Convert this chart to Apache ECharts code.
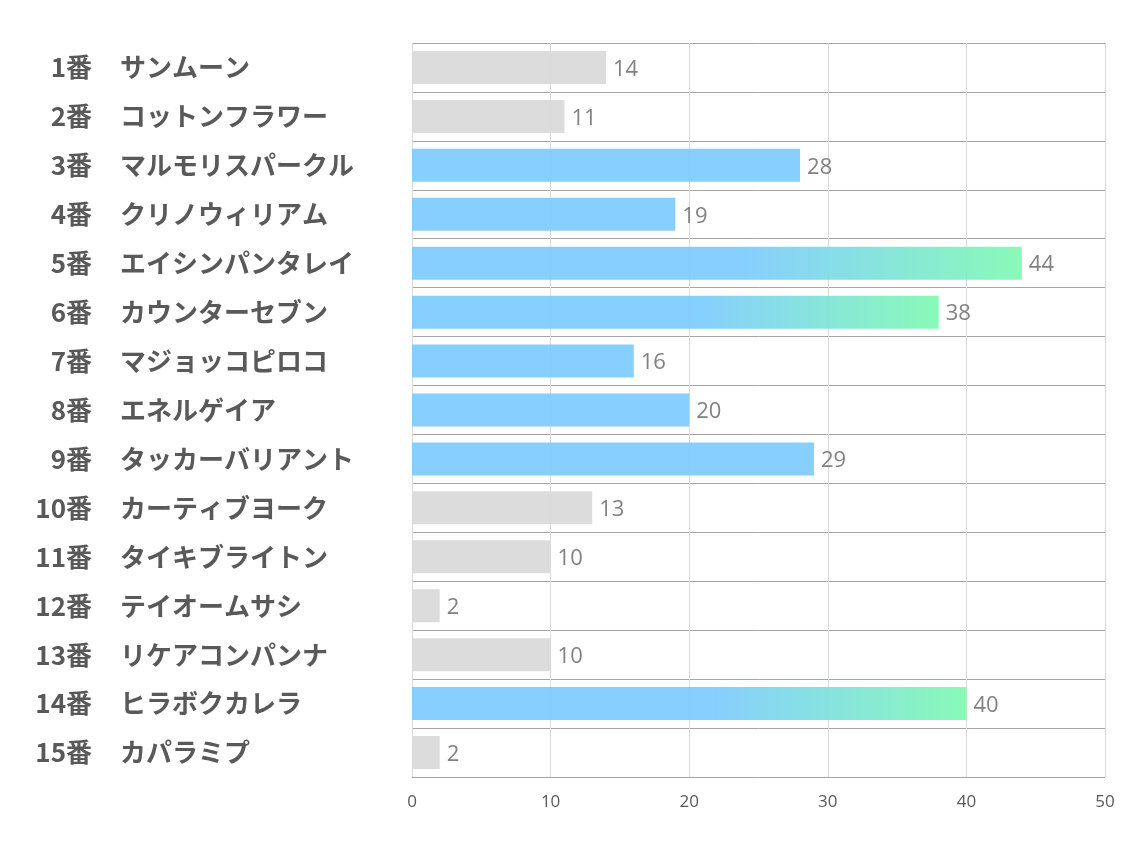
<!DOCTYPE html>
<html><head><meta charset="utf-8">
<script src="https://cdn.jsdelivr.net/npm/echarts@6/dist/echarts.min.js"></script>
<style>html,body{margin:0;padding:0;background:#fff}#c{width:1134px;height:850px}</style>
</head><body><div id="c"></div>
<script>
const numbers = ['1番','2番','3番','4番','5番','6番','7番','8番','9番','10番','11番','12番','13番','14番','15番'];
const names = ['サンムーン','コットンフラワー','マルモリスパークル','クリノウィリアム','エイシンパンタレイ','カウンターセブン','マジョッコピロコ','エネルゲイア','タッカーバリアント','カーティブヨーク','タイキブライトン','テイオームサシ','リケアコンパンナ','ヒラボクカレラ','カパラミプ'];
const values = [14,11,28,19,44,38,16,20,29,13,10,2,10,40,2];
const xTicks = [0,10,20,30,40,50];

const chart = echarts.init(document.getElementById('c'));
const blue = '#7ccbff', green = '#7ffab3', gray = '#d9d9d9';
const labelFont = {fontSize:26,fontWeight:'bold',color:'#595959',fontFamily:'Noto Sans CJK JP'};
chart.setOption({
  animation:false,
  grid:{left:412,right:29,top:43,bottom:73,containLabel:false},
  xAxis:{type:'value',min:xTicks[0],max:xTicks[xTicks.length-1],interval:10,
    axisLine:{show:false},axisTick:{show:false},
    axisLabel:{color:'#595959',fontSize:17,margin:17,fontFamily:'Open Sans'},
    splitLine:{show:true,lineStyle:{color:'#d9d9d9',width:1}}},
  yAxis:[
    {type:'category',data:numbers,inverse:true,position:'left',
      axisLine:{show:false},axisTick:{show:false},
      splitLine:{show:true,lineStyle:{color:'#a6a6a6',width:1}},
      axisLabel:Object.assign({align:'right',margin:320},labelFont)},
    {type:'category',data:names,inverse:true,position:'left',offset:0,
      axisLine:{show:false},axisTick:{show:false},splitLine:{show:false},
      axisLabel:Object.assign({align:'left',margin:292},labelFont)}
  ],
  series:[{type:'bar',data:values,barWidth:33,yAxisIndex:0,
    itemStyle:{opacity:0.92,color:function(p){
      const v=p.value;
      if(v>=30) return new echarts.graphic.LinearGradient(0,0,1,0,[{offset:0,color:blue},{offset:0.54,color:blue},{offset:1,color:green}]);
      if(v>=15) return blue;
      return gray;}},
    label:{show:true,position:'right',distance:7,offset:[0,2],color:'#767676',fontSize:22,fontFamily:'Open Sans'}
  }]
});
</script></body></html>
